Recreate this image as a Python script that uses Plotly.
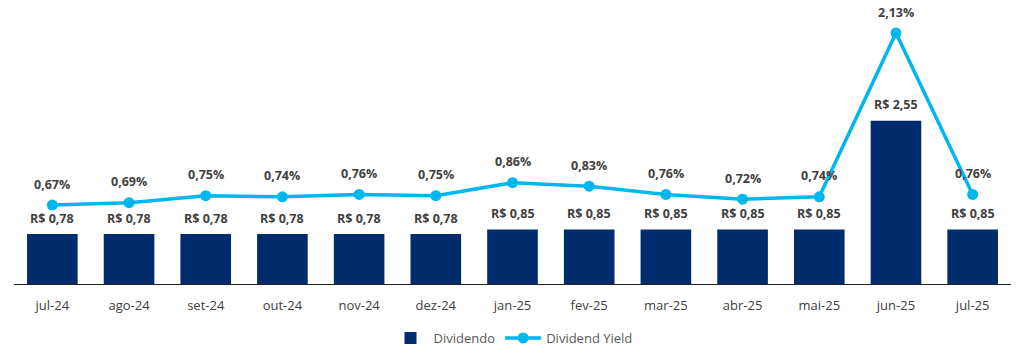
import plotly.graph_objects as go

categories = ["jul-24", "ago-24", "set-24", "out-24", "nov-24", "dez-24", "jan-25",
              "fev-25", "mar-25", "abr-25", "mai-25", "jun-25", "jul-25"]
dividendo = [0.78, 0.78, 0.78, 0.78, 0.78, 0.78, 0.85, 0.85, 0.85, 0.85, 0.85, 2.55, 0.85]
dividend_yield = [0.67, 0.69, 0.75, 0.74, 0.76, 0.75, 0.86, 0.83, 0.76, 0.72, 0.74, 2.13, 0.76]

def brl(v):
    return "R$ " + f"{v:.2f}".replace(".", ",")

def pct(v):
    return f"{v:.2f}".replace(".", ",") + "%"

NAVY = "#002B6C"
CYAN = "#00B6EE"
TXT = "#404040"
FONT = "Open Sans"

fig = go.Figure()
fig.add_trace(go.Bar(x=categories, y=dividendo, name="Dividendo", marker_color=NAVY,
                     marker_line_width=0, yaxis="y"))
fig.add_trace(go.Scatter(x=categories, y=dividend_yield, name="Dividend Yield",
                         mode="lines+markers", line=dict(color=CYAN, width=3.5),
                         marker=dict(color=CYAN, size=11), yaxis="y2"))

annotations = []
for c, v in zip(categories, dividendo):
    annotations.append(dict(x=c, y=v, xref="x", yref="y", text=brl(v), showarrow=False,
                            yshift=16, font=dict(family=FONT, size=12.5, color=TXT, weight="bold")))
for c, v in zip(categories, dividend_yield):
    annotations.append(dict(x=c, y=v, xref="x", yref="y2", text=pct(v), showarrow=False,
                            yshift=21, font=dict(family=FONT, size=12.5, color=TXT, weight="bold")))

fig.update_layout(
    width=1024, height=355,
    margin=dict(l=14, r=13, t=10, b=71, autoexpand=False),
    paper_bgcolor="white", plot_bgcolor="white",
    bargap=0.34,
    font=dict(family=FONT, color=TXT),
    showlegend=True,
    legend=dict(orientation="h", x=0.5, xanchor="center", y=-0.197, yanchor="middle",
                itemwidth=36,
                font=dict(family=FONT, size=13, color="#595959"), traceorder="normal"),
    xaxis=dict(range=[-0.5, len(categories) - 0.5], autorange=False,
               showline=True, linecolor="#222222", linewidth=1.3, ticks="",
               ticklabelstandoff=9,
               tickfont=dict(family=FONT, size=13, color=TXT), showgrid=False),
    yaxis=dict(range=[0, 274 / 64], autorange=False, visible=False, showgrid=False),
    yaxis2=dict(range=[0, 274 / 117.8], autorange=False, overlaying="y", visible=False, showgrid=False),
    annotations=annotations,
)

fig.write_html("out.html", config={"displayModeBar": False},
               post_script="document.body.style.margin='0';document.body.style.padding='0';")
